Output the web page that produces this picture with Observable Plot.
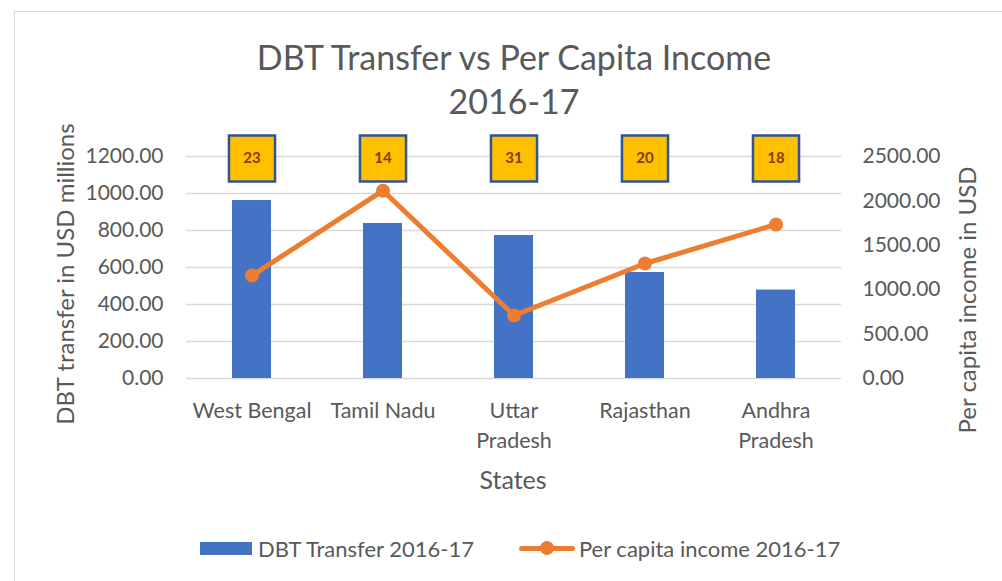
<!DOCTYPE html>
<html>
<head>
<meta charset="utf-8">
<script src="https://cdn.jsdelivr.net/npm/d3@7"></script>
<script src="https://cdn.jsdelivr.net/npm/@observablehq/plot@0.6"></script>
<style>
  html, body { margin: 0; padding: 0; background: #fff; }
  #wrap { position: relative; width: 1002px; height: 581px; overflow: hidden; font-family: Lato, "Open Sans", sans-serif; color: #595959; }
  #frame { position: absolute; left: 14px; top: 11px; width: 1000px; height: 580px; border: 1px solid #d9d9d9; box-sizing: border-box; }
  #chart { position: absolute; left: 0; top: 0; }
  .title { position: absolute; left: 0; width: 1028px; text-align: center; font-size: 34px; line-height: 40px; }
  .vlabel { position: absolute; font-size: 24px; white-space: nowrap; transform: translate(-50%, -50%) rotate(-90deg); }
  #xlabel { position: absolute; left: 513px; top: 479px; transform: translate(-50%, -50%); font-size: 25px; }
  #legend { position: absolute; top: 536px; left: 200px; display: flex; align-items: center; font-size: 22px; height: 24px; }
  .sw-bar { width: 52px; height: 13px; background: #4472C4; margin-right: 6px; }
  .sw-line { position: relative; width: 56px; height: 24px; margin-left: 45px; margin-right: 4px; }
  .sw-line .l { position: absolute; left: 0; right: 0; top: 10px; height: 5px; background: #ED7D31; border-radius: 3px; }
  .sw-line .d { position: absolute; left: 21px; top: 5px; width: 14px; height: 14px; border-radius: 50%; background: #ED7D31; }
</style>
</head>
<body>
<div id="wrap">
  <div id="frame"></div>
  <div id="chart"></div>
  <div class="title" style="top:37px">DBT Transfer vs Per Capita Income</div>
  <div class="title" style="top:81px">2016-17</div>
  <div class="vlabel" style="left:64px; top:274px">DBT transfer in USD millions</div>
  <div class="vlabel" style="left:966px; top:300px">Per capita income in USD</div>
  <div id="xlabel">States</div>
  <div id="legend">
    <div class="sw-bar"></div><span>DBT Transfer 2016-17</span>
    <div class="sw-line"><div class="l"></div><div class="d"></div></div><span>Per capita income 2016-17</span>
  </div>
</div>
<script>
const states = ["West Bengal", "Tamil Nadu", "Uttar Pradesh", "Rajasthan", "Andhra Pradesh"];
const stateTickLabels = ["West Bengal", "Tamil Nadu", "Uttar\nPradesh", "Rajasthan", "Andhra\nPradesh"];
const dbtTransfer = [962, 838, 773, 573, 478];
const perCapitaIncome = [1160, 2115, 710, 1295, 1735];
const boxLabels = ["23", "14", "31", "20", "18"];
const leftTicks = [0, 200, 400, 600, 800, 1000, 1200];
const rightTicks = [0, 500, 1000, 1500, 2000, 2500];

const k = 1200 / 2500; // right axis -> left axis scale factor
const rows = states.map((s, i) => ({
  state: s,
  dbt: dbtTransfer[i],
  income: perCapitaIncome[i],
  incomeScaled: perCapitaIncome[i] * k,
  box: boxLabels[i]
}));
const tickMap = new Map(states.map((s, i) => [s, stateTickLabels[i]]));

const chart = Plot.plot({
  width: 1002,
  height: 581,
  marginTop: 156,
  marginBottom: 203,
  marginLeft: 186,
  marginRight: 161,
  style: { fontFamily: "Lato, 'Open Sans', sans-serif", color: "#595959", background: "transparent" },
  x: { domain: states, paddingInner: 0.7, paddingOuter: 0.35 },
  y: { domain: [0, 1200] },
  marks: [
    Plot.gridY(leftTicks, { stroke: "#d9d9d9", strokeOpacity: 1, strokeWidth: 1.3 }),
    Plot.axisY(leftTicks, { anchor: "left", tickSize: 0, tickPadding: 23, fontSize: 21, label: null, tickFormat: d => d.toFixed(2) }),
    Plot.axisY(rightTicks.map(v => v * k), { anchor: "right", tickSize: 0, tickPadding: 21, fontSize: 21, label: null, textAnchor: "start", tickFormat: d => (d / k).toFixed(2) }),
    Plot.axisX({ anchor: "bottom", tickSize: 0, tickPadding: 18, fontSize: 21.5, lineHeight: 1.4, label: null, tickFormat: d => tickMap.get(d) }),
    Plot.barY(rows, { x: "state", y: "dbt", fill: "#4472C4" }),
    Plot.line(rows, { x: "state", y: "incomeScaled", stroke: "#ED7D31", strokeWidth: 5, strokeLinecap: "round", strokeLinejoin: "round" }),
    Plot.dot(rows, { x: "state", y: "incomeScaled", r: 7, fill: "#ED7D31", stroke: "none" }),
    Plot.dot(rows, { x: "state", y: () => 1189, symbol: "square", r: 26, fill: "#FFC000", stroke: "#2F5597", strokeWidth: 2.5 }),
    Plot.text(rows, { x: "state", y: () => 1189, text: "box", fill: "#843C0C", fontSize: 15, fontWeight: "bold" })
  ]
});
document.getElementById("chart").appendChild(chart);
</script>
</body>
</html>
